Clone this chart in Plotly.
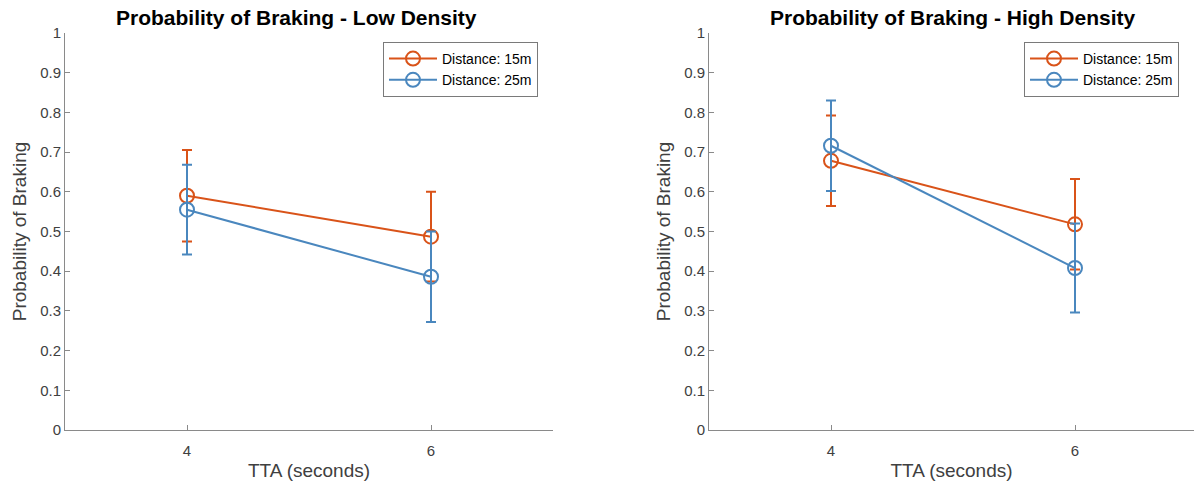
import plotly.graph_objects as go

tta = [4, 6]
low_15 = [0.590, 0.487]
low_15_err = [0.115, 0.113]
low_25 = [0.555, 0.386]
low_25_err = [0.113, 0.114]
high_15 = [0.678, 0.518]
high_15_err = [0.114, 0.114]
high_25 = [0.716, 0.408]
high_25_err = [0.114, 0.112]

series_names = ["Distance: 15m", "Distance: 25m"]
titles = ["Probability of Braking - Low Density", "Probability of Braking - High Density"]
y_ticks = [0, 0.1, 0.2, 0.3, 0.4, 0.5, 0.6, 0.7, 0.8, 0.9, 1]
y_tick_labels = ["0", "0.1", "0.2", "0.3", "0.4", "0.5", "0.6", "0.7", "0.8", "0.9", "1"]
x_ticks = [4, 6]

ORANGE = "#D95319"
BLUE = "#4A87BE"
FONT = "Liberation Sans, Arial, sans-serif"

W, H = 1194, 484
fig = go.Figure()

def add(x, y, err, name, color, xa, ya, legend):
    fig.add_trace(go.Scatter(
        x=x, y=y, name=name, mode="lines+markers",
        line=dict(color=color, width=2),
        marker=dict(symbol="circle-open", size=14, color=color, line=dict(width=2, color=color)),
        error_y=dict(type="data", array=err, visible=True, color=color, thickness=2, width=5),
        xaxis=xa, yaxis=ya, legend=legend,
    ))

add(tta, low_15, low_15_err, series_names[0], ORANGE, "x", "y", "legend")
add(tta, low_25, low_25_err, series_names[1], BLUE, "x", "y", "legend")
add(tta, high_15, high_15_err, series_names[0], ORANGE, "x2", "y2", "legend2")
add(tta, high_25, high_25_err, series_names[1], BLUE, "x2", "y2", "legend2")

y0 = (H - 430) / H
y1 = (H - 33) / H
axis_col = "#8a8a8a"
tick_font = dict(family=FONT, size=15, color="#404040")

def xaxis(dom, rng, anchor):
    return dict(domain=dom, range=rng, tickvals=x_ticks, ticktext=[str(v) for v in x_ticks],
                showline=True, linecolor=axis_col, linewidth=1, ticks="inside", ticklen=5,
                tickcolor=axis_col, showgrid=False, zeroline=False, tickfont=tick_font,
                automargin=False, anchor=anchor, ticklabelstandoff=7,
                title=dict(text="TTA (seconds)", font=dict(family=FONT, size=19, color="#404040"), standoff=5))

def yaxis(anchor):
    return dict(domain=[y0, y1], range=[0, 1], tickvals=y_ticks, ticktext=y_tick_labels,
                showline=True, linecolor=axis_col, linewidth=1, ticks="inside", ticklen=5,
                tickcolor=axis_col, showgrid=False, zeroline=False, tickfont=tick_font, anchor=anchor,
                automargin=False,
                title=dict(text="Probability of Braking", font=dict(family=FONT, size=19, color="#404040"), standoff=8))

lx0, lx1 = 65 / W, 553 / W
rx0, rx1 = 709 / W, 1.0
fig.update_layout(
    width=W, height=H, margin=dict(l=0, r=0, t=0, b=0),
    paper_bgcolor="white", plot_bgcolor="white", showlegend=True,
    xaxis=xaxis([lx0, lx1], [3, 7], "y"),
    yaxis=yaxis("x"),
    xaxis2=xaxis([rx0, rx1], [3, 3 + (1194 - 709) / 122], "y2"),
    yaxis2=yaxis("x2"),
)

leg_common = dict(bgcolor="white", bordercolor="#7a7a7a", borderwidth=1,
                  font=dict(family=FONT, size=14, color="#000000"),
                  xanchor="left", yanchor="top", itemwidth=48, tracegroupgap=0)
fig.update_layout(
    legend=dict(x=383 / W, y=(H - 42) / H, **leg_common),
    legend2=dict(x=1024 / W, y=(H - 42) / H, **leg_common),
)

title_centers = [296 / W, 953 / W]
for t, cx in zip(titles, title_centers):
    fig.add_annotation(text="<b>" + t + "</b>", x=cx, y=(H - 17) / H, xref="paper", yref="paper",
                       showarrow=False, font=dict(family=FONT, size=21, color="#000000"),
                       xanchor="center", yanchor="middle")

fig.write_html("out.html")
